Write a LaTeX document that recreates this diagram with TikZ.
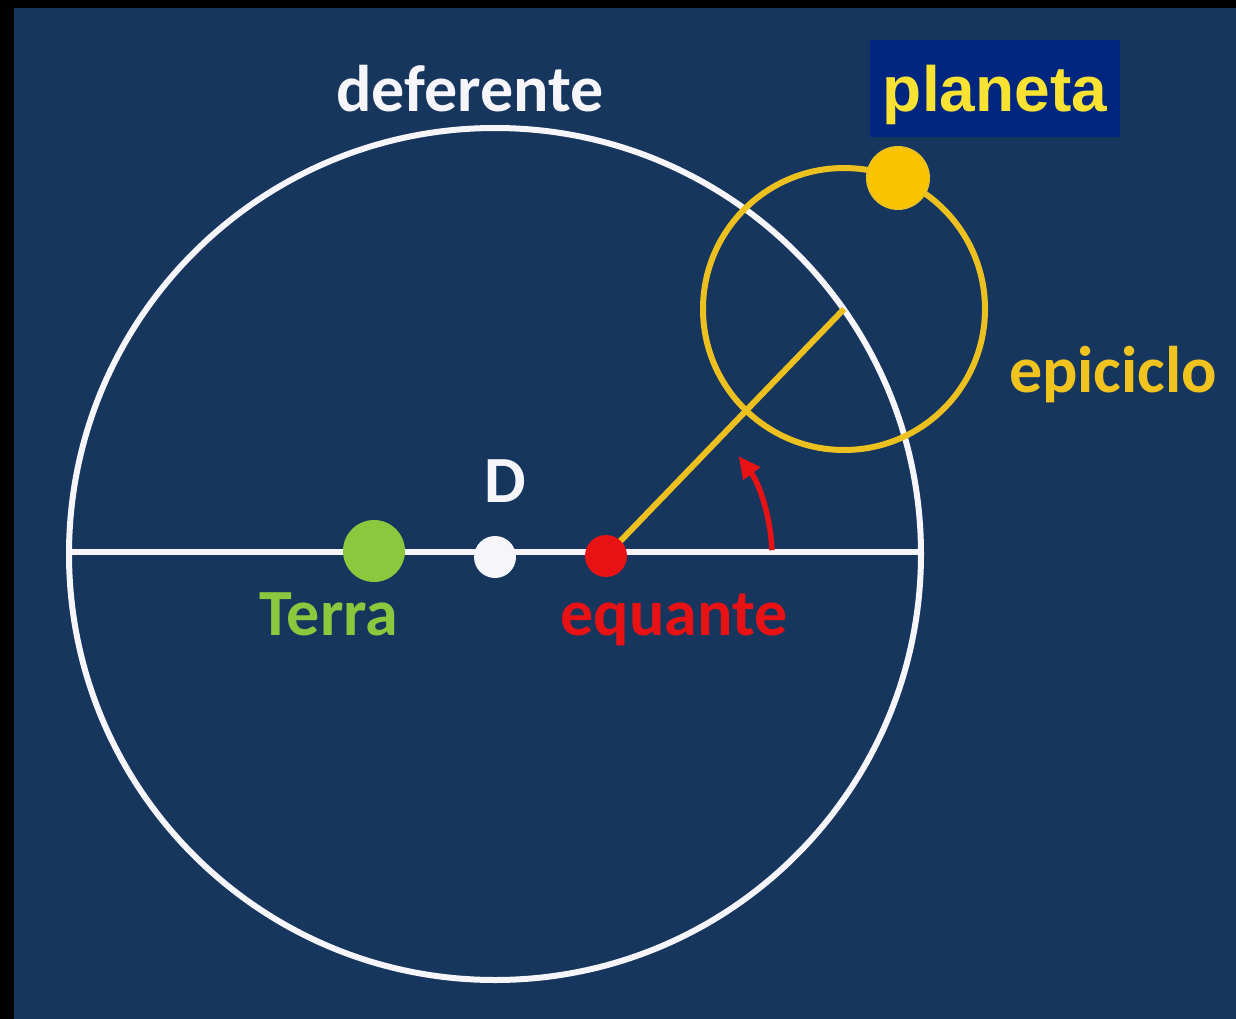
\documentclass[tikz,border=0pt]{standalone}
\usepackage{fontspec}
\setmainfont{Carlito}
\newfontfamily\arialb{Liberation Sans}
\usetikzlibrary{arrows.meta}
\definecolor{bgblue}{RGB}{22,54,94}
\definecolor{boxblue}{RGB}{0,38,128}
\definecolor{plyellow}{RGB}{250,226,50}
\definecolor{epiyellow}{RGB}{236,192,30}
\definecolor{planetyellow}{RGB}{250,196,0}
\definecolor{txtyellow}{RGB}{240,195,30}
\definecolor{earthgreen}{RGB}{140,200,62}
\definecolor{eqred}{RGB}{232,18,20}
\definecolor{offwhite}{RGB}{246,246,250}
\tikzset{
  dot/.style={circle, inner sep=0pt, draw=none},
  lbl/.style={font=\fontsize{66}{66}\selectfont\bfseries, anchor=base, inner sep=0pt},
  orbit/.style={line width=6pt},
}
\begin{document}
\begin{tikzpicture}[x=1pt,y=-1pt]
\useasboundingbox (0,0) rectangle (1236,1019);
\fill[black] (0,0) rectangle (1236,1019);
\fill[bgblue] (14,8) rectangle (1236,1019);

% deferent
\coordinate (Dc) at (495,554);
\draw[orbit, offwhite] (Dc) circle[radius=426];
\coordinate (L) at (69,552);
\coordinate (R) at (921,552);
\draw[orbit, offwhite] (L) -- (R);

% epicycle
\node[dot, minimum size=2pt] (epc) at (844,309) {};
\draw[orbit, epiyellow] (epc.center) circle[radius=141];

% points
\coordinate (eqc) at (606,556);
\draw[orbit, epiyellow] (eqc) -- (epc.center);
\node[dot, fill=earthgreen, minimum size=62pt] (terra) at (374,551) {};
\node[dot, fill=offwhite, minimum size=42pt] (dd) at (495,557) {};
\node[dot, fill=eqred, minimum size=42pt] (eq) at (eqc) {};
\node[dot, fill=planetyellow, draw=epiyellow, line width=2pt, minimum size=62pt] (planet) at (898,178) {};

% angle arrow
\draw[eqred, line width=5.5pt, -{Triangle[length=22pt,width=20pt]}]
  ([shift={(-2:166)}]eq.center) arc[start angle=-2, end angle=-37, radius=166];

% labels
\node[lbl, text=offwhite] (tdef) at (470,112) {deferente};
\node[fill=boxblue, minimum width=250pt, minimum height=97pt, inner sep=0pt] (pbox) at (995,88.5) {};
\node[anchor=base, inner sep=0pt, text=plyellow, font=\arialb\fontsize{64}{64}\selectfont\bfseries] (tplan) at (995,112) {planeta};
\node[lbl, text=txtyellow] (tepi) at (1113,392) {epiciclo};
\node[lbl, text=offwhite] (tD) at (505,502) {D};
\node[lbl, text=earthgreen] (tterra) at (329,635) {Terra};
\node[lbl, text=eqred] (teq) at (674,635) {equante};
\end{tikzpicture}
\end{document}
